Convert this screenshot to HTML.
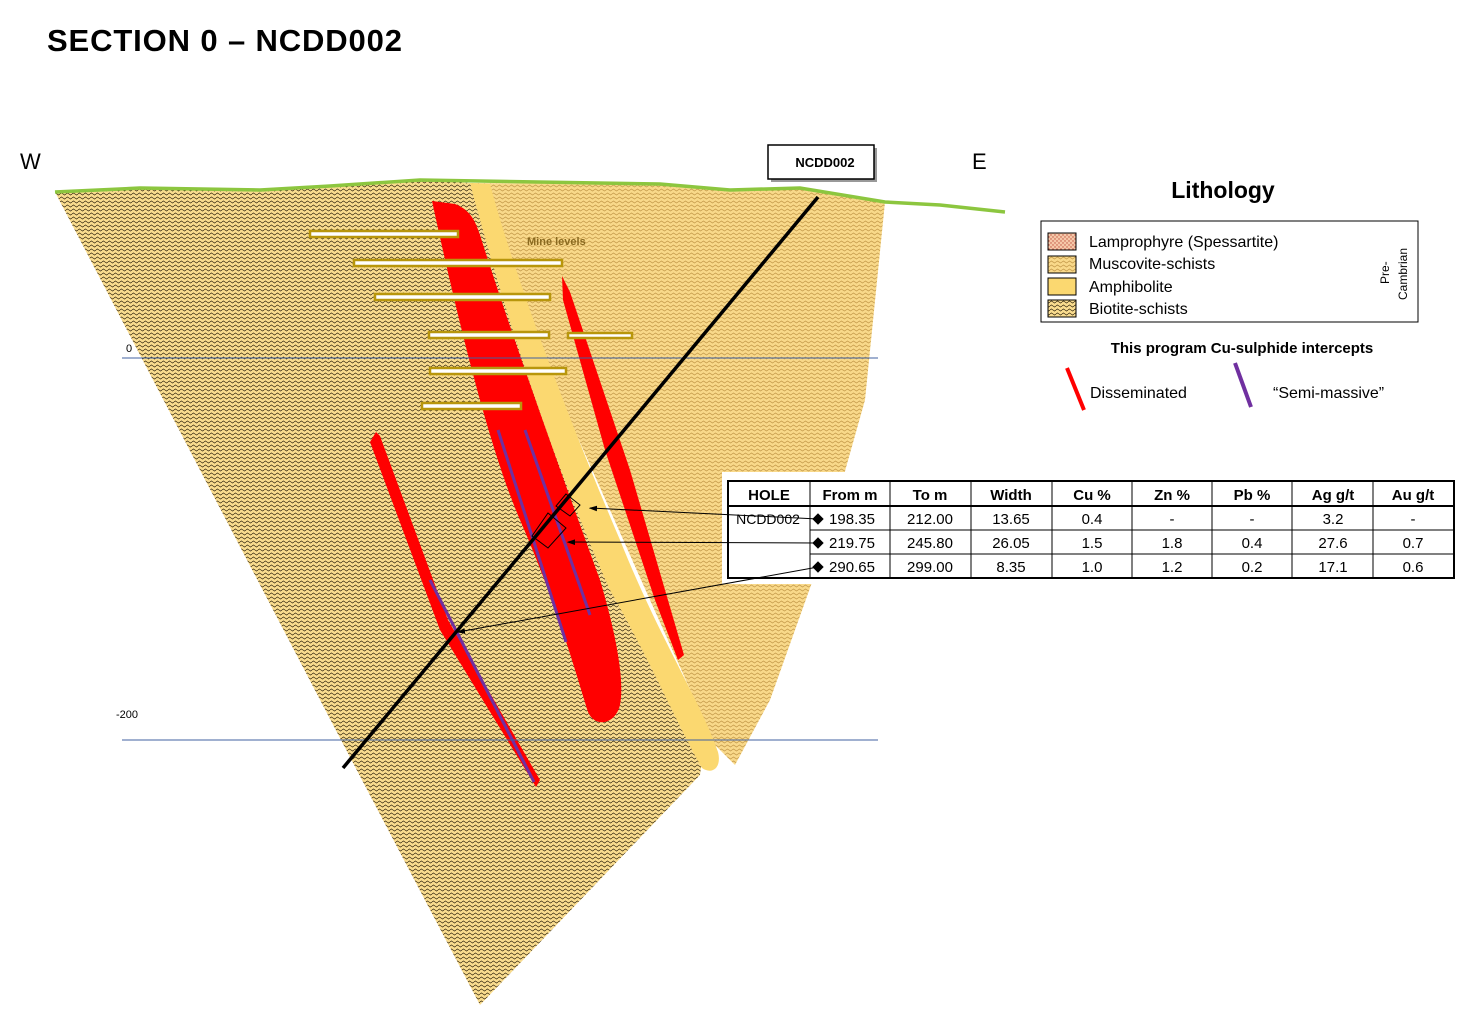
<!DOCTYPE html>
<html><head><meta charset="utf-8"><style>
body{margin:0;background:#fff;}
svg{display:block}
text{font-family:"Liberation Sans",sans-serif}
</style></head><body>
<svg width="1472" height="1013" viewBox="0 0 1472 1013" xmlns="http://www.w3.org/2000/svg">
<defs>
<pattern id="bio" width="6" height="4" patternUnits="userSpaceOnUse">
<rect width="6" height="4" fill="#f9dc8e"/>
<path d="M0 2 L1.5 1 L3 2 L4.5 3 L6 2" stroke="#3a2c12" stroke-width="0.75" fill="none"/>
</pattern>
<pattern id="mus" width="6" height="4" patternUnits="userSpaceOnUse">
<rect width="6" height="4" fill="#f9d98a"/>
<path d="M0 2 L1.5 1 L3 2 L4.5 3 L6 2" stroke="#c9a050" stroke-width="0.8" fill="none"/>
</pattern>
<pattern id="lam" width="4" height="4" patternUnits="userSpaceOnUse">
<rect width="4" height="4" fill="#f5c8a8"/>
<circle cx="1" cy="1" r="0.7" fill="#c05040"/><circle cx="3" cy="3" r="0.7" fill="#c05040"/>
</pattern>
<marker id="ah" markerWidth="8" markerHeight="8" refX="7" refY="4" orient="auto" markerUnits="userSpaceOnUse"><path d="M0 0 L12 4 L0 8z" fill="#000" transform="scale(0.7) translate(0,1.5)"/></marker>
</defs>
<text x="47" y="51" font-size="31" font-weight="bold" fill="#000" textLength="355">SECTION 0 – NCDD002</text>
<text x="20" y="169" font-size="22">W</text>
<text x="972" y="169" font-size="22">E</text>

<polygon points="55,192 140,188 260,190 330,186 420,180 470,183 530,330 600,500 660,640 705,740 700,775 480,1005 341,740 200,470" fill="url(#bio)"/>
<polygon points="470,183 660,184 730,190 800,188 885,202 865,400 820,560 770,700 735,765 715,745 650,600 570,420 500,240" fill="url(#mus)"/>
<path d="M470,183 L490,184 C510,260 560,400 620,540 C660,640 700,700 718,752 C722,768 712,775 702,768 C680,730 650,660 610,590 C570,500 520,370 470,183Z" fill="#fbd870"/>
<path d="M432,201 L455,204 C470,210 475,220 480,235 C510,330 560,470 600,580 C615,630 625,680 620,705 C615,725 595,728 588,712 C575,670 555,600 520,520 C490,450 460,330 432,201Z" fill="#ff0000"/>
<line x1="498" y1="430" x2="566" y2="642" stroke="#7030a0" stroke-width="3"/>
<line x1="525" y1="430" x2="590" y2="615" stroke="#7030a0" stroke-width="3"/>
<path d="M562,276 L570,292 L630,470 L684,655 L678,660 L655,600 L605,450 L563,300Z" fill="#ff0000"/>
<path d="M376,432 L380,436 L448,620 L540,780 L536,787 L440,630 L370,442Z" fill="#ff0000"/>
<line x1="430" y1="580" x2="534" y2="782" stroke="#7030a0" stroke-width="3"/>

<g fill="#fff" stroke="#b8960c" stroke-width="2.5">
<rect x="310" y="231" width="148" height="6"/>
<rect x="354" y="260" width="208" height="6"/>
<rect x="375" y="294" width="175" height="6"/>
<rect x="429" y="332" width="120" height="6"/>
<rect x="568" y="333" width="64" height="5"/>
<rect x="430" y="368" width="136" height="6"/>
<rect x="422" y="403" width="99" height="6"/>
</g>
<text x="527" y="245" font-size="11" font-weight="bold" fill="#8a6a20">Mine levels</text>

<line x1="122" y1="358" x2="878" y2="358" stroke="#4060a0" stroke-width="1"/>
<line x1="122" y1="740" x2="878" y2="740" stroke="#4060a0" stroke-width="1"/>
<text x="126" y="352" font-size="11">0</text>
<text x="116" y="718" font-size="11">-200</text>

<polyline points="55,192 140,188 260,190 330,186 420,180 660,184 730,190 800,188 885,202 940,205 1005,212" fill="none" stroke="#8cc63f" stroke-width="3.5"/>

<line x1="818" y1="197" x2="343" y2="768" stroke="#000" stroke-width="3.5"/>
<g fill="none" stroke="#000" stroke-width="1">
<polygon points="566,494 580,505 570,516 556,506"/>
<polygon points="548,513 566,528 548,548 532,536"/>
</g>

<rect x="771" y="148" width="106" height="34" fill="#999"/>
<rect x="768" y="145" width="106" height="34" fill="#fff" stroke="#000" stroke-width="1.5"/>
<text x="825" y="167" font-size="13" font-weight="bold" text-anchor="middle">NCDD002</text>

<rect x="722" y="472" width="736" height="112" fill="#fff"/>
<g stroke="#000" fill="none">
<rect x="728" y="481" width="726" height="97" stroke-width="2"/>
<line x1="728" y1="506" x2="1454" y2="506" stroke-width="2"/>
<line x1="810" y1="530" x2="1454" y2="530"/>
<line x1="810" y1="554" x2="1454" y2="554"/>
<g stroke-width="1">
<line x1="810" y1="481" x2="810" y2="578"/><line x1="890" y1="481" x2="890" y2="578"/>
<line x1="971" y1="481" x2="971" y2="578"/><line x1="1052" y1="481" x2="1052" y2="578"/>
<line x1="1132" y1="481" x2="1132" y2="578"/><line x1="1212" y1="481" x2="1212" y2="578"/>
<line x1="1292" y1="481" x2="1292" y2="578"/><line x1="1373" y1="481" x2="1373" y2="578"/>
</g></g>
<g font-size="15" text-anchor="middle">
<g font-weight="bold"><text x="769" y="500">HOLE</text><text x="850" y="500">From m</text><text x="930" y="500">To m</text><text x="1011" y="500">Width</text><text x="1092" y="500">Cu %</text><text x="1172" y="500">Zn %</text><text x="1252" y="500">Pb %</text><text x="1333" y="500">Ag g/t</text><text x="1413" y="500">Au g/t</text></g>
<text x="768" y="524" font-size="14">NCDD002</text>
<text x="852" y="524">198.35</text><text x="930" y="524">212.00</text><text x="1011" y="524">13.65</text><text x="1092" y="524">0.4</text><text x="1172" y="524">-</text><text x="1252" y="524">-</text><text x="1333" y="524">3.2</text><text x="1413" y="524">-</text>
<text x="852" y="548">219.75</text><text x="930" y="548">245.80</text><text x="1011" y="548">26.05</text><text x="1092" y="548">1.5</text><text x="1172" y="548">1.8</text><text x="1252" y="548">0.4</text><text x="1333" y="548">27.6</text><text x="1413" y="548">0.7</text>
<text x="852" y="572">290.65</text><text x="930" y="572">299.00</text><text x="1011" y="572">8.35</text><text x="1092" y="572">1.0</text><text x="1172" y="572">1.2</text><text x="1252" y="572">0.2</text><text x="1333" y="572">17.1</text><text x="1413" y="572">0.6</text>
</g>
<g stroke="#000" stroke-width="1" fill="#000">
<line x1="818" y1="519" x2="590" y2="508" marker-end="url(#ah)"/>
<line x1="818" y1="543" x2="568" y2="542" marker-end="url(#ah)"/>
<line x1="818" y1="567" x2="458" y2="632" marker-end="url(#ah)"/>
<path d="M818 514 L823 519 L818 524 L813 519z"/>
<path d="M818 538 L823 543 L818 548 L813 543z"/>
<path d="M818 562 L823 567 L818 572 L813 567z"/>
</g>

<text x="1223" y="198" font-size="23" font-weight="bold" text-anchor="middle">Lithology</text>
<rect x="1041" y="221" width="377" height="101" fill="#fff" stroke="#000" stroke-width="1"/>
<rect x="1048" y="233" width="28" height="17" fill="url(#lam)" stroke="#000"/>
<rect x="1048" y="256" width="28" height="17" fill="url(#mus)" stroke="#000"/>
<rect x="1048" y="278" width="28" height="17" fill="#fbd870" stroke="#000"/>
<rect x="1048" y="300" width="28" height="17" fill="url(#bio)" stroke="#000"/>
<g font-size="16"><text x="1089" y="247">Lamprophyre (Spessartite)</text><text x="1089" y="269">Muscovite-schists</text><text x="1089" y="292">Amphibolite</text><text x="1089" y="314">Biotite-schists</text></g>
<text transform="translate(1389,284) rotate(-90)" font-size="12">Pre-</text>
<text transform="translate(1407,300) rotate(-90)" font-size="12">Cambrian</text>
<text x="1242" y="353" font-size="15" font-weight="bold" text-anchor="middle">This program Cu-sulphide intercepts</text>
<line x1="1067" y1="368" x2="1084" y2="410" stroke="#ff0000" stroke-width="4"/>
<line x1="1235" y1="363" x2="1251" y2="407" stroke="#7030a0" stroke-width="4"/>
<text x="1090" y="398" font-size="16">Disseminated</text>
<text x="1273" y="398" font-size="16">“Semi-massive”</text>
</svg>
</body></html>
